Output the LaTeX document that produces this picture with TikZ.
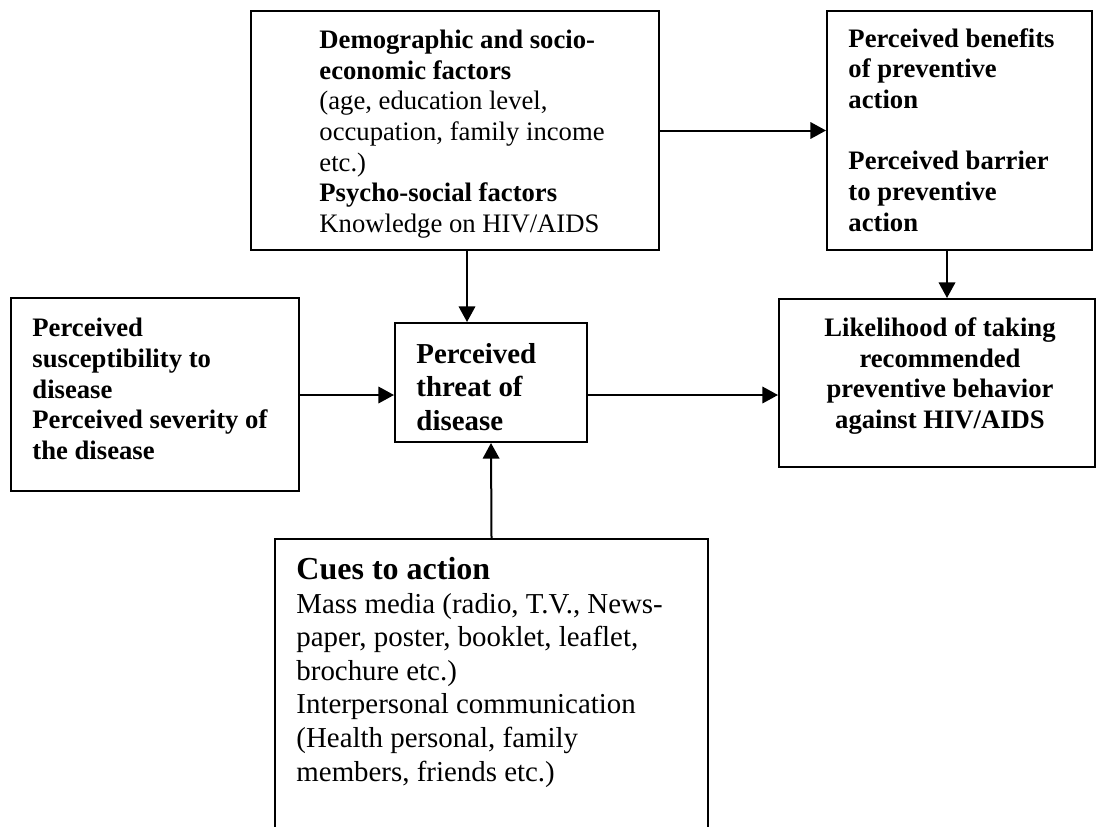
\documentclass[tikz,border=0pt]{standalone}
\usepackage{fontspec}
\setmainfont{Liberation Serif}
\usetikzlibrary{arrows.meta,fit}
\begin{document}
\begin{tikzpicture}[x=0.45pt,y=-0.45pt,
  box/.style={draw, line width=0.9pt, inner sep=0pt},
  txt/.style={inner sep=0pt, align=left, font=\fontsize{12}{13.8}\selectfont},
  arr/.style={line width=0.9pt, -{Triangle[length=7pt,width=7.4pt]}}]
\useasboundingbox (0,0) rectangle (1096,826);
\clip (0,0) rectangle (1096,826);

\node[box, fit={(251,11) (659,250)}] (demo) {};
\node[box, fit={(827,11) (1092,250)}] (benef) {};
\node[box, fit={(11,298) (299,491)}] (susc) {};
\node[box, fit={(395,323) (587,442)}] (threat) {};
\node[box, fit={(779,299) (1095,467)}] (likely) {};
\node[box, fit={(275,539) (708,900)}] (cues) {};

\node[txt, anchor=west] (demo-t) at (319,134) {\textbf{Demographic and socio-}\\\textbf{economic factors}\\(age, education level,\\occupation, family income\\etc.)\\\textbf{Psycho-social factors}\\Knowledge on HIV/AIDS};
\node[txt, anchor=west, font=\fontsize{12}{13.8}\selectfont\bfseries] (benef-t) at (848,130) {Perceived benefits\\of preventive\\action\\[13.8pt]Perceived barrier\\to preventive\\action};
\node[txt, anchor=west, font=\fontsize{12}{13.8}\selectfont\bfseries] (susc-t) at (32,389) {Perceived\\susceptibility to\\disease\\Perceived severity of\\the disease};
\node[txt, anchor=west, font=\fontsize{13}{15.1}\selectfont\bfseries] (threat-t) at (416,387) {Perceived\\threat of\\disease};
\node[txt, align=center, anchor=center, font=\fontsize{12}{13.8}\selectfont\bfseries] (likely-t) at (940,376) {Likelihood of taking\\recommended\\preventive behavior\\against HIV/AIDS};
\node[txt, anchor=north west, font=\fontsize{13}{15.1}\selectfont] (cues-t) at (296,557) {{\fontsize{14.4}{15.3}\selectfont\bfseries Cues to action}\\Mass media (radio, T.V., News-\\paper, poster, booklet, leaflet,\\brochure etc.)\\Interpersonal communication\\(Health personal, family\\members, friends etc.)};

\coordinate (xa) at (947,0);
\coordinate (xb) at (467,0);
\coordinate (ya) at (0,395);
\draw[arr] (demo.east) -- (benef.west);
\draw[arr] (benef.south -| xa) -- (likely.north -| xa);
\draw[arr] (demo.south -| xb) -- (threat.north -| xb);
\draw[arr] (susc.east |- ya) -- (threat.west |- ya);
\draw[arr] (threat.east |- ya) -- (likely.west |- ya);
\draw[arr] (cues.north) -- (threat.south);
\end{tikzpicture}
\end{document}
